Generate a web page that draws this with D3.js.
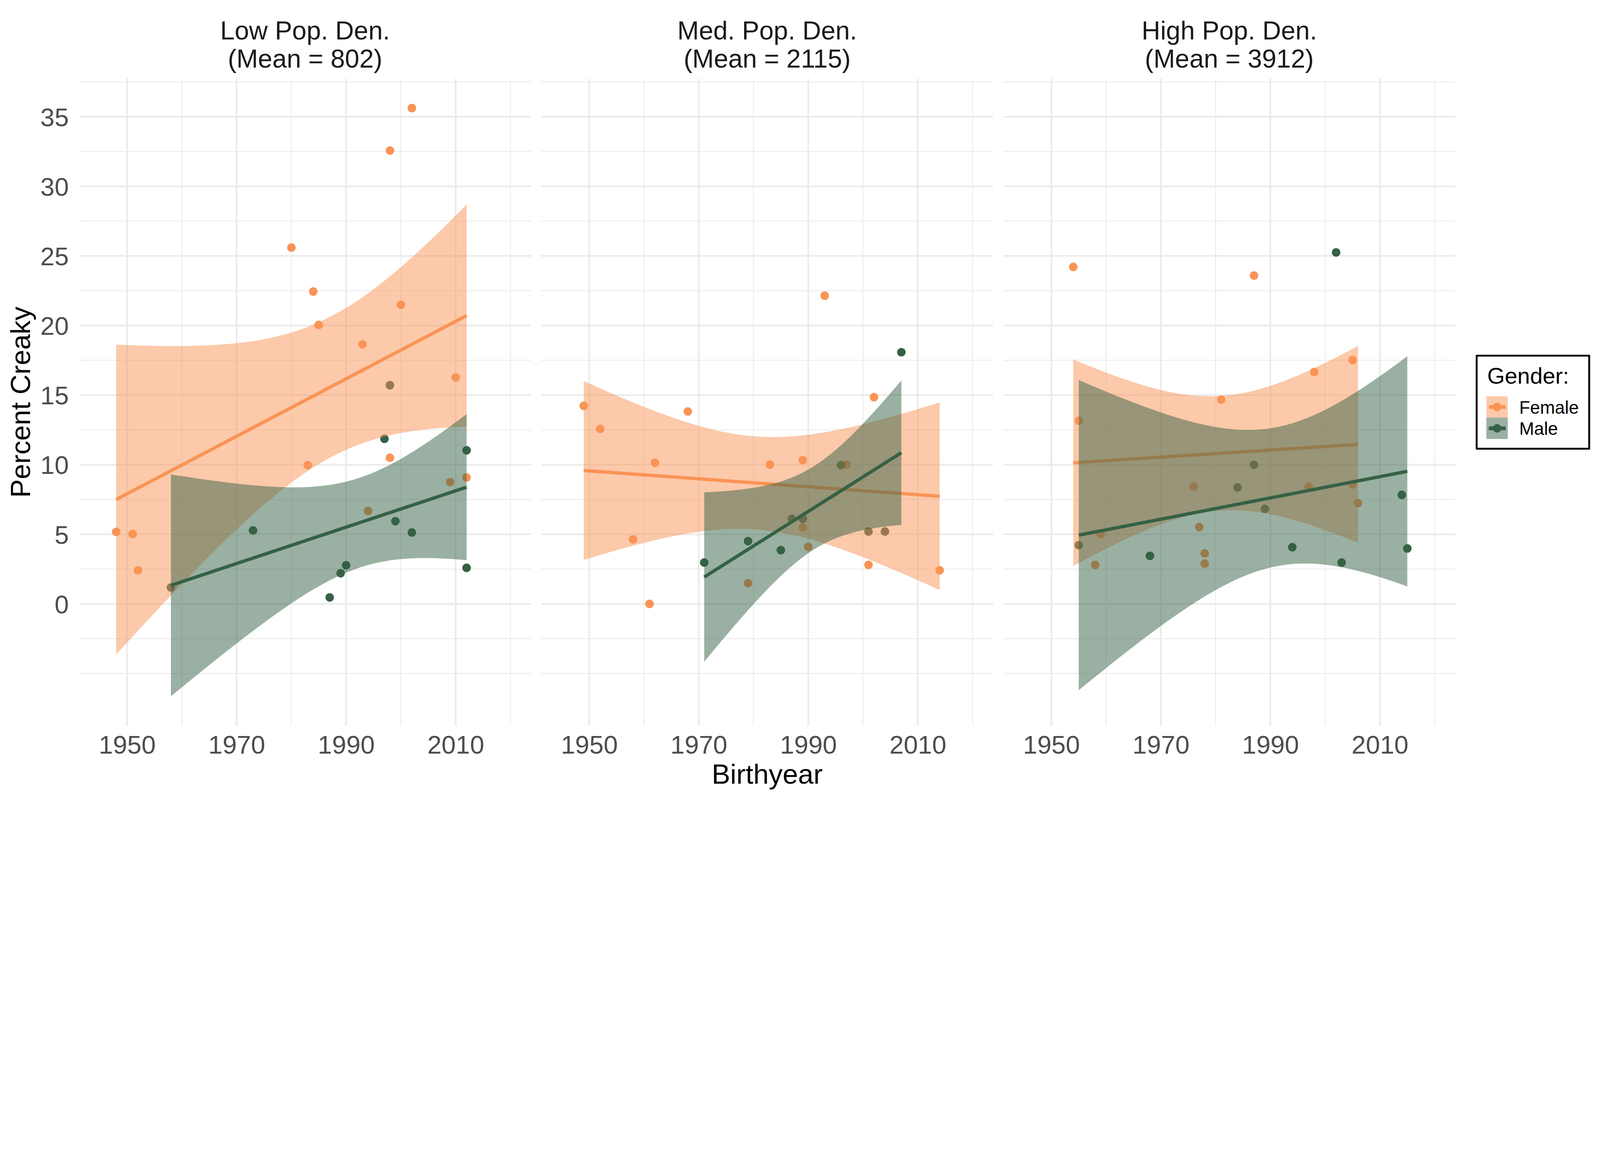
<!DOCTYPE html>
<html>
<head>
<meta charset="utf-8">
<script src="https://cdn.jsdelivr.net/npm/d3@7"></script>
<style>
  html, body { margin: 0; padding: 0; background: #fff; overflow: hidden; }
  svg { display: block; width: 100vw; height: 100vh; font-family: "Liberation Sans", Arial, sans-serif; }
</style>
</head>
<body>
<svg id="chart" viewBox="0 0 6000 3000" preserveAspectRatio="xMidYMin meet"></svg>
<script>
// facet titles
const panelTitles = [
    ["Low Pop. Den.", "(Mean = 802)"],
    ["Med. Pop. Den.", "(Mean = 2115)"],
    ["High Pop. Den.", "(Mean = 3912)"]
];
const genders = ["Female", "Male"];

// Low density
const lowFemaleYear = [1948, 1951, 1952, 1980, 1983, 1984, 1985, 1993, 1994, 1998, 1998, 2000, 2002, 2009, 2010, 2012];
const lowFemaleCreaky = [5.17, 5.02, 2.41, 25.6, 9.96, 22.44, 20.04, 18.64, 6.68, 32.57, 10.5, 21.49, 35.62, 8.75, 16.27, 9.08];
const lowMaleYear = [1958, 1973, 1987, 1989, 1990, 1997, 1998, 1999, 2002, 2012, 2012];
const lowMaleCreaky = [1.18, 5.28, 0.46, 2.2, 2.77, 11.86, 15.71, 5.94, 5.13, 11.03, 2.59];

// Medium density
const medFemaleYear = [1949, 1952, 1958, 1961, 1962, 1968, 1979, 1983, 1989, 1989, 1990, 1993, 1997, 2001, 2002, 2014];
const medFemaleCreaky = [14.23, 12.57, 4.63, 0.0, 10.14, 13.82, 1.49, 10.0, 10.32, 5.49, 4.1, 22.14, 10.0, 2.8, 14.85, 2.41];
const medMaleYear = [1971, 1979, 1985, 1987, 1989, 1996, 2001, 2004, 2007];
const medMaleCreaky = [2.97, 4.51, 3.86, 6.11, 6.11, 9.97, 5.2, 5.2, 18.08];

// High density
const highFemaleYear = [1954, 1955, 1958, 1959, 1976, 1977, 1978, 1978, 1981, 1987, 1997, 1998, 2005, 2005, 2006];
const highFemaleCreaky = [24.21, 13.16, 2.8, 5.02, 8.42, 5.52, 3.63, 2.89, 14.67, 23.59, 8.42, 16.66, 17.52, 8.57, 7.24];
const highMaleYear = [1955, 1968, 1984, 1987, 1989, 1994, 2002, 2003, 2014, 2015];
const highMaleCreaky = [4.22, 3.45, 8.37, 9.99, 6.83, 4.07, 25.25, 2.97, 7.83, 3.98];

const xBreaks = [1950, 1970, 1990, 2010];
const xMinor = [1960, 1980, 2000, 2020];
const yBreaks = [0, 5, 10, 15, 20, 25, 30, 35];
const yMinor = [-5, -2.5, 2.5, 7.5, 12.5, 17.5, 22.5, 27.5, 32.5, 37.5];
const xLimits = [1945, 2020];

const colors = { Female: "#F99455", Male: "#356145" };

const panels = [
    { Female: [lowFemaleYear, lowFemaleCreaky], Male: [lowMaleYear, lowMaleCreaky] },
    { Female: [medFemaleYear, medFemaleCreaky], Male: [medMaleYear, medMaleCreaky] },
    { Female: [highFemaleYear, highFemaleCreaky], Male: [highMaleYear, highMaleCreaky] }
];

// t quantile (0.975) by Cornish-Fisher expansion
function qt975(df) {
    const z = 1.959963985;
    const g1 = (z ** 3 + z) / 4;
    const g2 = (5 * z ** 5 + 16 * z ** 3 + 3 * z) / 96;
    const g3 = (3 * z ** 7 + 19 * z ** 5 + 17 * z ** 3 - 15 * z) / 384;
    const g4 = (79 * z ** 9 + 776 * z ** 7 + 1482 * z ** 5 - 1920 * z ** 3 - 945 * z) / 92160;
    return z + g1 / df + g2 / df ** 2 + g3 / df ** 3 + g4 / df ** 4;
}

// lm fit with 95% confidence band, like geom_smooth(method = "lm")
function smooth(xs, ys) {
    const n = xs.length;
    const xbar = d3.mean(xs), ybar = d3.mean(ys);
    let sxx = 0, sxy = 0;
    xs.forEach((x, i) => { sxx += (x - xbar) ** 2; sxy += (x - xbar) * (ys[i] - ybar); });
    const b = sxy / sxx, a = ybar - b * xbar;
    const sse = d3.sum(xs, (x, i) => (ys[i] - a - b * x) ** 2);
    const s = Math.sqrt(sse / (n - 2));
    const t = qt975(n - 2);
    const [lo, hi] = d3.extent(xs);
    return d3.range(80).map(k => {
        const x = lo + (hi - lo) * k / 79;
        const fit = a + b * x;
        const se = s * Math.sqrt(1 / n + (x - xbar) ** 2 / sxx);
        return { x: x, fit: fit, lower: fit - t * se, upper: fit + t * se };
    });
}

const fits = panels.map(p => ({ Female: smooth(...p.Female), Male: smooth(...p.Male) }));

const marginLeft = 297, marginTop = 295, panelW = 1694, panelH = 2426, gap = 39;

const xPad = (xLimits[1] - xLimits[0]) * 0.05;
const x = d3.scaleLinear().domain([xLimits[0] - xPad, xLimits[1] + xPad]).range([0, panelW]);

let yAll = [];
panels.forEach(p => genders.forEach(g => { yAll = yAll.concat(p[g][1]); }));
fits.forEach(f => genders.forEach(g => f[g].forEach(d => { yAll.push(d.lower, d.upper); })));
const yExt = d3.extent(yAll);
const yPad = (yExt[1] - yExt[0]) * 0.05;
const y = d3.scaleLinear().domain([yExt[0] - yPad, yExt[1] + yPad]).range([panelH, 0]);

const svg = d3.select("#chart");

panels.forEach((p, i) => {
    const g = svg.append("g").attr("transform", `translate(${marginLeft + i * (panelW + gap)},${marginTop})`);

    g.selectAll(".hminor").data(yMinor).enter().append("line")
        .attr("x1", 0).attr("x2", panelW).attr("y1", d => y(d)).attr("y2", d => y(d))
        .attr("stroke", "#EBEBEB").attr("stroke-width", 3.3);
    g.selectAll(".vminor").data(xMinor).enter().append("line")
        .attr("y1", 0).attr("y2", panelH).attr("x1", d => x(d)).attr("x2", d => x(d))
        .attr("stroke", "#EBEBEB").attr("stroke-width", 3.3);
    g.selectAll(".hmajor").data(yBreaks).enter().append("line")
        .attr("x1", 0).attr("x2", panelW).attr("y1", d => y(d)).attr("y2", d => y(d))
        .attr("stroke", "#EBEBEB").attr("stroke-width", 6.5);
    g.selectAll(".vmajor").data(xBreaks).enter().append("line")
        .attr("y1", 0).attr("y2", panelH).attr("x1", d => x(d)).attr("x2", d => x(d))
        .attr("stroke", "#EBEBEB").attr("stroke-width", 6.5);

    // points first, smooths are drawn over them
    genders.forEach(gen => {
        const [xs, ys] = p[gen];
        g.append("g").selectAll("circle").data(xs).enter().append("circle")
            .attr("cx", d => x(d)).attr("cy", (d, k) => y(ys[k]))
            .attr("r", 16).attr("fill", colors[gen]);
    });

    genders.forEach(gen => {
        const band = fits[i][gen];
        g.append("path").datum(band)
            .attr("d", d3.area().x(d => x(d.x)).y0(d => y(d.lower)).y1(d => y(d.upper)))
            .attr("fill", colors[gen]).attr("fill-opacity", 0.5);
        g.append("path").datum(band)
            .attr("d", d3.line().x(d => x(d.x)).y(d => y(d.fit)))
            .attr("fill", "none").attr("stroke", colors[gen]).attr("stroke-width", 12.5);
    });

    // x axis
    const xa = g.append("g").attr("transform", `translate(0,${panelH})`)
        .call(d3.axisBottom(x).tickValues(xBreaks).tickFormat(d3.format("d")).tickSize(0));
    xa.select(".domain").remove();
    xa.selectAll("text").attr("y", 105).attr("dy", null)
        .attr("font-size", 96).attr("fill", "#4D4D4D").attr("font-family", null);

    if (i === 0) {
        const ya = g.append("g")
            .call(d3.axisLeft(y).tickValues(yBreaks).tickFormat(d3.format("d")).tickSize(0));
        ya.select(".domain").remove();
        ya.selectAll("text").attr("x", -39).attr("dy", "0.36em")
            .attr("font-size", 96).attr("fill", "#4D4D4D").attr("font-family", null);
    }

    // strip title
    const t = g.append("text").attr("text-anchor", "middle").attr("font-size", 97).attr("fill", "#1A1A1A");
    panelTitles[i].forEach((line, k) => {
        t.append("tspan").attr("x", panelW / 2).attr("y", 148.6 - marginTop + k * 105).text(line);
    });
});

const plotRight = marginLeft + 3 * panelW + 2 * gap;

svg.append("text").attr("x", (marginLeft + plotRight) / 2).attr("y", 2939)
    .attr("text-anchor", "middle").attr("font-size", 104).attr("fill", "#000").text("Birthyear");

svg.append("text").attr("transform", `translate(113,${marginTop + panelH / 2}) rotate(-90)`)
    .attr("text-anchor", "middle").attr("font-size", 104).attr("fill", "#000").text("Percent Creaky");

// legend
const lg = svg.append("g");
lg.append("rect").attr("x", 5537.5).attr("y", 1333.5).attr("width", 422).attr("height", 349)
    .attr("fill", "#fff").attr("stroke", "#000").attr("stroke-width", 7).attr("stroke-linejoin", "round");
lg.append("text").attr("x", 5577).attr("y", 1439).attr("font-size", 85).attr("fill", "#000").text("Gender:");
genders.forEach((gen, k) => {
    const ky = 1486 + k * 80;
    lg.append("rect").attr("x", 5574).attr("y", ky).attr("width", 80).attr("height", 80)
        .attr("fill", colors[gen]).attr("fill-opacity", 0.5);
    lg.append("line").attr("x1", 5583).attr("x2", 5646).attr("y1", ky + 40).attr("y2", ky + 40)
        .attr("stroke", colors[gen]).attr("stroke-width", 14);
    lg.append("circle").attr("cx", 5614).attr("cy", ky + 40).attr("r", 16).attr("fill", colors[gen]);
    lg.append("text").attr("x", 5697).attr("y", ky + 65).attr("font-size", 67).attr("fill", "#000").text(gen);
});
</script>
</body>
</html>
